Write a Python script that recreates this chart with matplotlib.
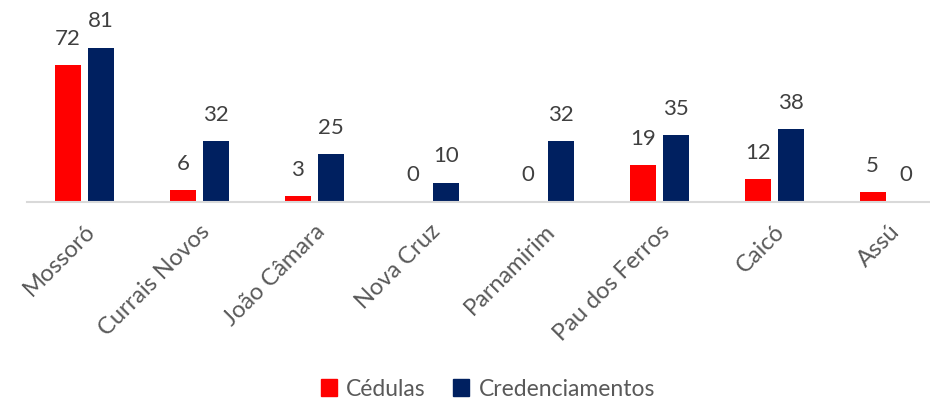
import numpy as np
import matplotlib.pyplot as plt
from matplotlib.patches import Patch

cidades = ["Mossoró", "Currais Novos", "João Câmara", "Nova Cruz",
           "Parnamirim", "Pau dos Ferros", "Caicó", "Assú"]
cedulas = [72, 6, 3, 0, 0, 19, 12, 5]
credenciamentos = [81, 32, 25, 10, 32, 35, 38, 0]

vermelho = "#ff0000"
azul = "#002060"
cinza_txt = "#404040"

plt.rcParams['font.family'] = ['Lato', 'DejaVu Sans']

W, H = 930, 403
fig = plt.figure(figsize=(W / 100, H / 100), dpi=100)
# eixo um pouco maior que a figura (o original vem cortado a direita)
left, right = 27, 946.5
base, top = 201.5, 201.5 - 90 * 1.9
ax = fig.add_axes([left / W, (H - base) / H, (right - left) / W, (base - top) / H])

x = np.arange(len(cidades))
w = 0.226
off = 0.1435
b1 = ax.bar(x - off, cedulas, w, color=vermelho)
b2 = ax.bar(x + off, credenciamentos, w, color=azul)

for bars, vals in ((b1, cedulas), (b2, credenciamentos)):
    for r, v in zip(bars, vals):
        ax.annotate(str(v), (r.get_x() + r.get_width() / 2, r.get_height()),
                    xytext=(0, 14.5), textcoords="offset points",
                    ha="center", va="baseline", fontsize=16, color=cinza_txt,
                    annotation_clip=False)

ax.set_xlim(-0.5, len(cidades) - 0.5)
ax.set_ylim(0, 90)
ax.set_yticks([])
for s in ("top", "right", "left"):
    ax.spines[s].set_visible(False)
ax.spines["bottom"].set_color("#d9d9d9")
ax.spines["bottom"].set_linewidth(1.5)
ax.set_xticks(x)
ax.set_xticklabels(cidades, rotation=45, ha="right", rotation_mode="anchor",
                   fontsize=17, color="#595959")
ax.tick_params(axis="x", length=0, pad=14)

handles = [Patch(color=vermelho, label="Cédulas"),
           Patch(color=azul, label="Credenciamentos")]
leg = fig.legend(handles=handles, loc="center", bbox_to_anchor=(488 / W, (H - 389) / H),
                 ncol=2, frameon=False, fontsize=16.5, handlelength=0.7, handleheight=0.7,
                 handletextpad=0.4, columnspacing=1.2)
for t in leg.get_texts():
    t.set_color("#595959")

fig.savefig("out.png", dpi=100)
